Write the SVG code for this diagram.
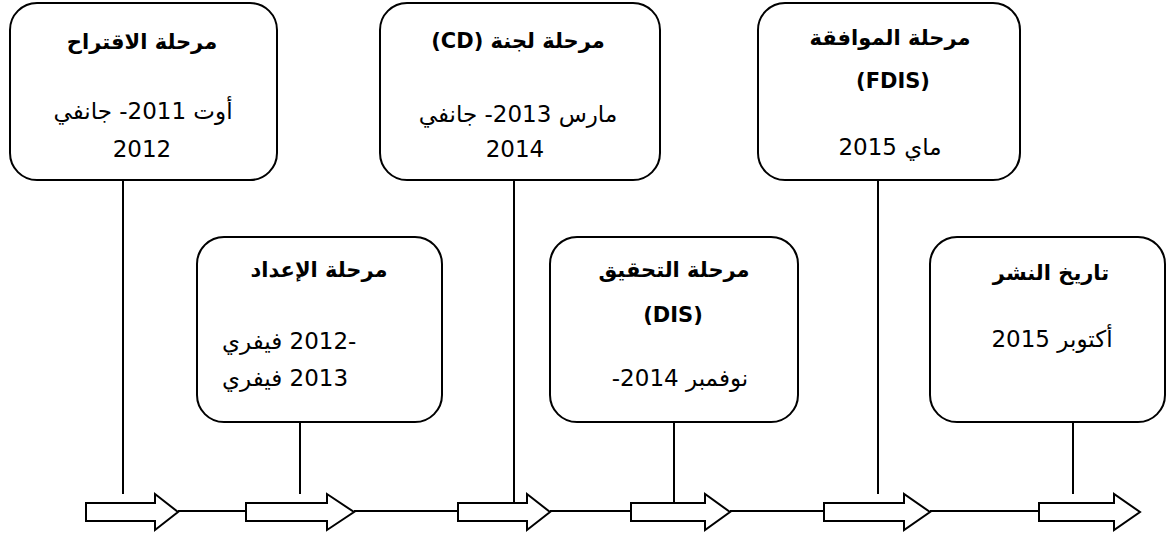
<svg xmlns="http://www.w3.org/2000/svg" width="1167" height="533" viewBox="0 0 1167 533">
  <style>
    .box { fill: #ffffff; stroke: #000000; stroke-width: 2; }
    .link { stroke: #000000; stroke-width: 2; fill: none; }
    .axis { fill: #ffffff; stroke: #000000; stroke-width: 2; stroke-linejoin: miter; }
    .title { font-family: "DejaVu Sans", "Liberation Sans", sans-serif; font-weight: bold; font-size: 21px; fill: #000000; }
    .body { font-family: "DejaVu Sans", "Liberation Sans", sans-serif; font-size: 23px; fill: #000000; }
  </style>

  <!-- timeline: stems, axis line and block arrows -->
  <g id="connectors">
    <line class="link" x1="123" y1="180" x2="123" y2="494"/>
    <line class="link" x1="514" y1="180" x2="514" y2="503"/>
    <line class="link" x1="878" y1="180" x2="878" y2="494"/>
    <line class="link" x1="300" y1="422" x2="300" y2="494"/>
    <line class="link" x1="674" y1="422" x2="674" y2="503"/>
    <line class="link" x1="1073" y1="422" x2="1073" y2="494"/>

    <line class="link" x1="178" y1="511" x2="246" y2="511"/>
    <line class="link" x1="354" y1="511" x2="458" y2="511"/>
    <line class="link" x1="550" y1="511" x2="631" y2="511"/>
    <line class="link" x1="730" y1="511" x2="824" y2="511"/>
    <line class="link" x1="930" y1="511" x2="1039" y2="511"/>

    <path class="axis" d="M86,503 H155 V494 L178,512 L155,530 V521 H86 Z"/>
    <path class="axis" d="M246,503 H327 V494 L354,512 L327,530 V521 H246 Z"/>
    <path class="axis" d="M458,503 H527 V494 L550,512 L527,530 V521 H458 Z"/>
    <path class="axis" d="M631,503 H705 V494 L730,512 L705,530 V521 H631 Z"/>
    <path class="axis" d="M824,503 H904 V494 L930,512 L904,530 V521 H824 Z"/>
    <path class="axis" d="M1039,503 H1114 V494 L1140,512 L1114,530 V521 H1039 Z"/>
  </g>

  <g id="proposal">
    <rect class="box" x="10" y="3" width="267" height="177" rx="27"/>
    <text class="title" x="142" y="49" text-anchor="middle" direction="rtl">مرحلة الاقتراح</text>
    <text class="body" x="143" y="119" text-anchor="middle" direction="rtl">أوت 2011- جانفي</text>
    <text class="body" x="142" y="157" text-anchor="middle" direction="rtl">2012</text>
  </g>

  <g id="preparation">
    <rect class="box" x="197" y="237" width="245" height="185" rx="27"/>
    <text class="title" x="319" y="277" text-anchor="middle" direction="rtl">مرحلة الإعداد</text>
    <text class="body" x="222" y="349">فيفري&#x200E; 2012-</text>
    <text class="body" x="222" y="386">فيفري&#x200E; 2013</text>
  </g>

  <g id="committee">
    <rect class="box" x="380" y="3" width="280" height="177" rx="27"/>
    <text class="title" x="518" y="48" text-anchor="middle" direction="rtl">مرحلة لجنة (CD)</text>
    <text class="body" x="518" y="122" text-anchor="middle" direction="rtl">مارس 2013- جانفي</text>
    <text class="body" x="515" y="157" text-anchor="middle" direction="rtl">2014</text>
  </g>

  <g id="enquiry">
    <rect class="box" x="550" y="237" width="248" height="185" rx="27"/>
    <text class="title" x="674" y="277" text-anchor="middle" direction="rtl">مرحلة التحقيق</text>
    <text class="title" x="673" y="322" text-anchor="middle" direction="rtl">(DIS)</text>
    <text class="body" x="680" y="386" text-anchor="middle" direction="rtl">نوفمبر  2014-</text>
  </g>

  <g id="approval">
    <rect class="box" x="758" y="3" width="262" height="177" rx="27"/>
    <text class="title" x="890" y="45" text-anchor="middle" direction="rtl">مرحلة الموافقة</text>
    <text class="title" x="893" y="88" text-anchor="middle" direction="rtl">(FDIS)</text>
    <text class="body" x="890" y="155" text-anchor="middle" direction="rtl">ماي 2015</text>
  </g>

  <g id="publication">
    <rect class="box" x="930" y="237" width="235" height="185" rx="27"/>
    <text class="title" x="1051" y="280" text-anchor="middle" direction="rtl">تاريخ النشر</text>
    <text class="body" x="1052" y="347" text-anchor="middle" direction="rtl">أكتوبر  2015</text>
  </g>
</svg>
